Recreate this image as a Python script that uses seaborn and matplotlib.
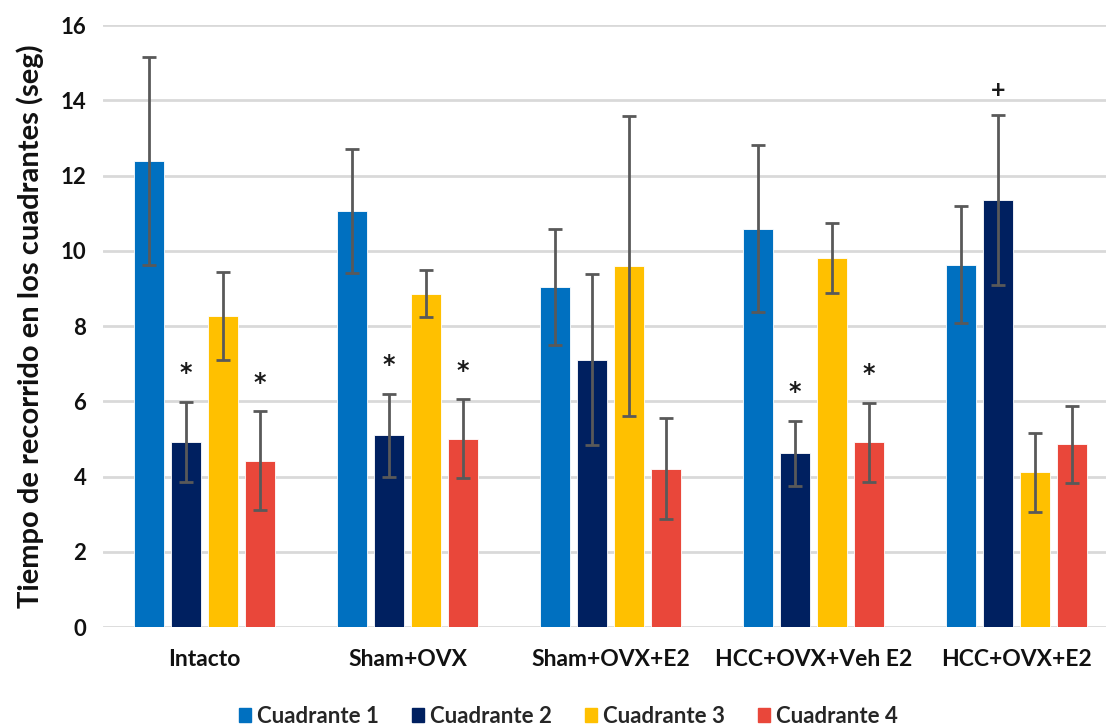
import matplotlib
matplotlib.use("Agg")
import matplotlib.pyplot as plt
import seaborn as sns
import pandas as pd
import numpy as np

groups = ["Intacto", "Sham+OVX", "Sham+OVX+E2", "HCC+OVX+Veh E2", "HCC+OVX+E2"]
quadrants = ["Cuadrante 1", "Cuadrante 2", "Cuadrante 3", "Cuadrante 4"]

# mean time per quadrant (s), one list per quadrant, ordered by group
q1_mean = [12.38, 11.05, 9.04, 10.59, 9.63]
q2_mean = [4.92, 5.10, 7.11, 4.62, 11.35]
q3_mean = [8.27, 8.86, 9.60, 9.81, 4.11]
q4_mean = [4.42, 5.01, 4.21, 4.91, 4.86]

# error (s)
q1_err = [2.76, 1.65, 1.53, 2.21, 1.56]
q2_err = [1.07, 1.10, 2.27, 0.87, 2.25]
q3_err = [1.18, 0.62, 3.98, 0.94, 1.06]
q4_err = [1.31, 1.04, 1.35, 1.05, 1.02]

# significance marks: (group index, quadrant index, symbol)
marks = [(0, 1, "*"), (0, 3, "*"), (1, 1, "*"), (1, 3, "*"),
         (3, 1, "*"), (3, 3, "*"), (4, 1, "+")]

colors = ["#0070C0", "#002060", "#FFC000", "#E9473A"]

means = [q1_mean, q2_mean, q3_mean, q4_mean]
errs = [q1_err, q2_err, q3_err, q4_err]

df = pd.DataFrame({
    "grupo": np.tile(groups, len(quadrants)),
    "cuadrante": np.repeat(quadrants, len(groups)),
    "tiempo": np.concatenate(means),
})

sns.set_theme(style="white")
plt.rcParams["font.family"] = ["Lato", "DejaVu Sans"]

fig = plt.figure(figsize=(11.08, 7.25), dpi=100)
ax = fig.add_axes([0.093, 0.135, 0.905, 0.8305])

sns.barplot(data=df, x="grupo", y="tiempo", hue="cuadrante", order=groups,
            hue_order=quadrants, palette=colors, errorbar=None,
            width=0.73, gap=0.21, saturation=1, ax=ax, legend=True,
            edgecolor="white", linewidth=0.6, zorder=3)

bar_sets = list(ax.containers)
for qi, cont in enumerate(bar_sets):
    xs = [b.get_x() + b.get_width() / 2 for b in cont]
    ax.errorbar(xs, means[qi], yerr=errs[qi], fmt="none", ecolor="#595959",
                elinewidth=2.0, capsize=5, capthick=2.0, zorder=4)

for gi, qi, sym in marks:
    bar = bar_sets[qi][gi]
    x = bar.get_x() + bar.get_width() / 2
    top = means[qi][gi] + errs[qi][gi]
    if sym == "*":
        ax.text(x, top + 0.45, sym, ha="center", va="bottom", fontsize=17,
                fontweight="bold", family="DejaVu Sans", color="#1a1a1a",
                zorder=5)
    else:
        ax.text(x, top + 0.35, sym, ha="center", va="bottom", fontsize=18,
                fontweight="bold", color="#1a1a1a", zorder=5)

ax.set_ylim(0, 16)
ax.set_xlim(-0.5, 4.44)
ax.set_yticks(np.arange(0, 17, 2))
ax.yaxis.grid(True, color="#D9D9D9", linewidth=2, zorder=0)
ax.set_axisbelow(True)
for s in ax.spines.values():
    s.set_visible(False)
ax.tick_params(axis="both", length=0, colors="#111111")
ax.tick_params(axis="y", pad=12, labelsize=16)
ax.tick_params(axis="x", pad=16, labelsize=16.5)
for lab in ax.get_xticklabels() + ax.get_yticklabels():
    lab.set_fontweight("bold")

ax.set_xlabel("")
ax.set_ylabel("Tiempo de recorrido en los cuadrantes (seg)", fontsize=21,
              fontweight="bold", color="#111111", labelpad=12)

ax.legend_.remove()
handles = [plt.Rectangle((0, 0), 1, 1, color=c) for c in colors]
fig.legend(handles, quadrants, loc="lower center", ncol=4, frameon=False,
           bbox_to_anchor=(0.513, -0.03), handlelength=0.55, handleheight=0.55,
           handletextpad=0.3, columnspacing=1.45,
           prop={"weight": "bold", "size": 16})

fig.savefig("out.png", dpi=100)
